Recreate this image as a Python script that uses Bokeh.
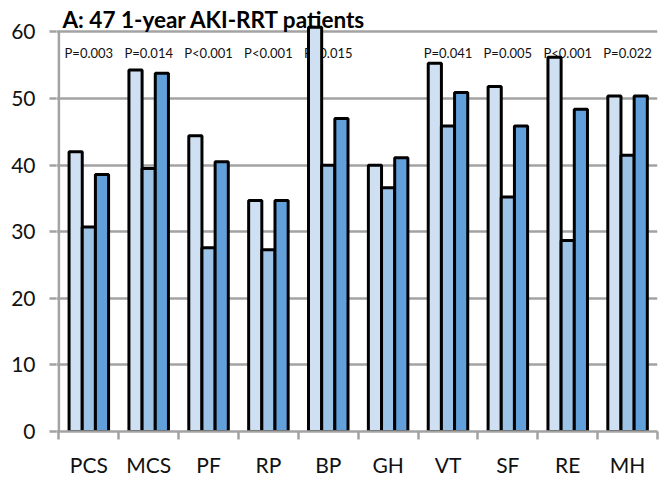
from bokeh.plotting import figure
from bokeh.models import Range1d, FixedTicker, Label, ColumnDataSource
from bokeh.core.properties import value
from bokeh.embed import file_html
from bokeh.resources import INLINE

categories = ["PCS", "MCS", "PF", "RP", "BP", "GH", "VT", "SF", "RE", "MH"]
series_1 = [42.0, 54.3, 44.4, 34.7, 60.7, 40.0, 55.3, 51.8, 56.2, 50.4]
series_2 = [30.7, 39.5, 27.6, 27.3, 40.0, 36.6, 45.9, 35.2, 28.7, 41.5]
series_3 = [38.6, 53.8, 40.5, 34.7, 47.0, 41.1, 50.9, 45.9, 48.4, 50.4]
p_labels = ["P=0.003", "P=0.014", "P<0.001", "P<0.001", "P=0.015", "",
            "P=0.041", "P=0.005", "P<0.001", "P=0.022"]
y_ticks = [0, 10, 20, 30, 40, 50, 60]
title_text = "A: 47 1-year AKI-RRT patients"

colors = ["#cfe0f3", "#9dc3e6", "#62a0dc"]
GRID = "#a3a3a3"
FONT = "Lato"

n = len(categories)
centers = [i + 0.5 for i in range(n)]
bar_w = 0.22

p = figure(width=659, height=480, output_backend="svg", toolbar_location=None,
           x_range=Range1d(-0.04, n), y_range=Range1d(0, 64.73),
           min_border_top=0, min_border_left=56, min_border_right=2,
           min_border_bottom=49)
p.outline_line_color = None
p.background_fill_color = "white"

# grid
p.xgrid.grid_line_color = None
p.ygrid.ticker = FixedTicker(ticks=y_ticks)
p.ygrid.grid_line_color = GRID
p.ygrid.grid_line_width = 2.5

# y axis
ya = p.yaxis[0]
ya.ticker = FixedTicker(ticks=y_ticks)
ya.axis_line_color = None
ya.major_tick_line_color = GRID
ya.major_tick_line_width = 2.5
ya.major_tick_out = 7
ya.major_tick_in = 0
ya.minor_tick_line_color = None
ya.major_label_standoff = 14
ya.major_label_text_font = FONT
ya.major_label_text_font_size = "21px"
ya.major_label_text_color = "#111111"

# x axis
xa = p.xaxis[0]
xa.ticker = FixedTicker(ticks=centers, minor_ticks=list(range(n + 1)))
xa.major_label_overrides = {c: cat for c, cat in zip(centers, categories)}
xa.axis_line_color = GRID
xa.axis_line_width = 2.5
xa.major_tick_line_color = None
xa.major_tick_out = 0
xa.major_tick_in = 0
xa.minor_tick_line_color = GRID
xa.minor_tick_line_width = 2.5
xa.minor_tick_out = 8
xa.minor_tick_in = 0
xa.major_label_standoff = 12
xa.major_label_text_font = FONT
xa.major_label_text_font_size = "21px"
xa.major_label_text_color = "#111111"

# p-value labels (drawn below bars)
P_LABEL_Y = 56.9
src_p = ColumnDataSource(dict(x=centers, y=[P_LABEL_Y] * n, t=p_labels))
p.text(x="x", y="y", text="t", source=src_p, text_font=value(FONT),
       text_font_size="13px", text_align="center", text_baseline="middle",
       text_color="#111111")

# y axis line from 0 to max tick
p.segment(x0=[0], y0=[y_ticks[0]], x1=[0], y1=[y_ticks[-1]],
          line_color=GRID, line_width=2.5)

# bars
for k, (vals, col) in enumerate(zip([series_1, series_2, series_3], colors)):
    off = (k - 1) * bar_w
    src = ColumnDataSource(dict(x=[c + off for c in centers], top=vals))
    p.vbar(x="x", top="top", bottom=0, width=bar_w, source=src,
           fill_color=col, line_color="black", line_width=3)

title = Label(x=0.06, y=61.9, text=title_text, text_font=FONT,
              text_font_style="bold", text_font_size="22.5px",
              text_baseline="alphabetic", text_color="black")
p.add_layout(title)

open("out.html", "w").write(file_html(p, INLINE))
